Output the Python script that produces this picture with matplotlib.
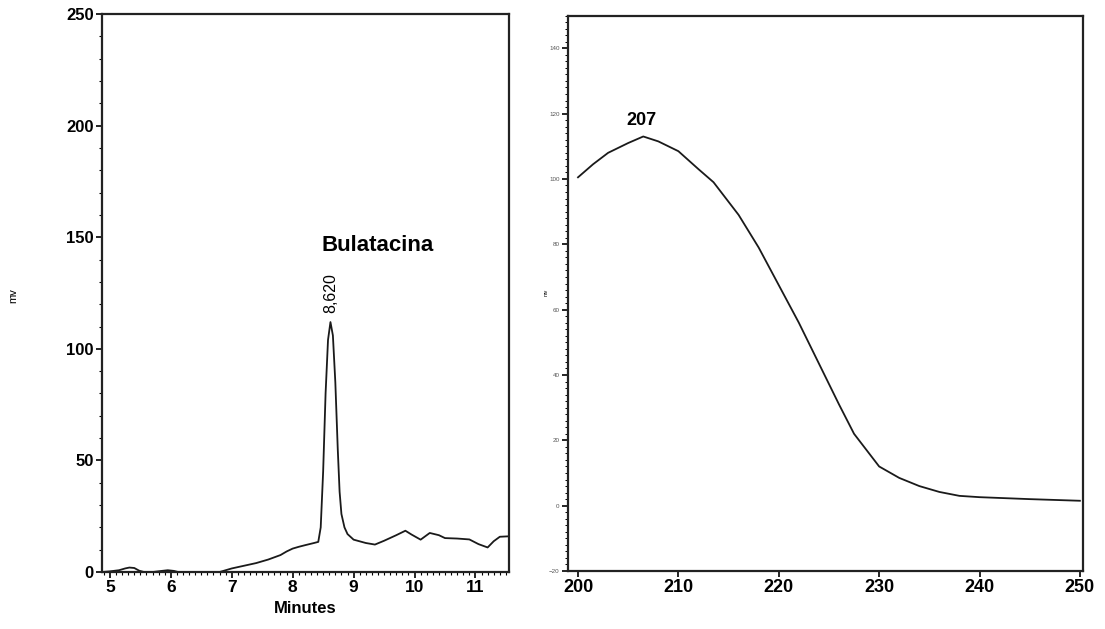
import matplotlib.pyplot as plt
from matplotlib.ticker import MultipleLocator

plt.rcParams['font.family'] = ['Liberation Sans', 'DejaVu Sans']

# chromatogram (minutes, mv)
tempo = [4.87, 5.0, 5.15, 5.25, 5.32, 5.4, 5.48, 5.56, 5.7, 5.85, 5.95, 6.05, 6.12, 6.2,
         6.5, 6.8, 6.9, 7.0, 7.2, 7.4, 7.6, 7.8, 7.9, 8.0, 8.1, 8.2, 8.35, 8.42,
         8.46, 8.5, 8.54, 8.58, 8.62, 8.66, 8.7, 8.74, 8.77, 8.8, 8.85, 8.9, 9.0,
         9.2, 9.35, 9.5, 9.7, 9.85, 9.95, 10.1, 10.25, 10.4, 10.5, 10.7, 10.9,
         11.05, 11.2, 11.3, 11.4, 11.55]
sinal = [0.0, 0.3, 0.8, 1.6, 2.0, 1.8, 0.6, 0.0, 0.0, 0.5, 0.8, 0.5, 0.0, 0.0,
         0.0, 0.0, 0.8, 1.6, 2.8, 4.0, 5.6, 7.6, 9.2, 10.5, 11.3, 12.0, 13.0, 13.5,
         20.0, 45.0, 80.0, 104.0, 112.0, 106.0, 85.0, 55.0, 36.0, 26.0, 20.0, 17.0, 14.5,
         13.0, 12.3, 14.0, 16.5, 18.5, 16.8, 14.5, 17.5, 16.5, 15.2, 15.0, 14.6,
         12.5, 11.0, 13.8, 15.8, 16.0]

# UV spectrum of the peak (nm, absorbance)
onda = [200, 201.5, 203, 205, 206.5, 208, 210, 212, 213.5, 216, 218, 220, 222,
        224, 226, 227.5, 230, 232, 234, 236, 238, 240, 245, 250]
absorb = [100.5, 104.5, 108.0, 111.0, 113.0, 111.5, 108.5, 103.0, 99.0, 89.0, 79.0,
          67.5, 56.0, 43.5, 31.0, 22.0, 12.0, 8.5, 6.0, 4.2, 3.0, 2.6, 2.0, 1.5]

fig = plt.figure(figsize=(11.05, 6.29), dpi=100)
ax1 = fig.add_axes([0.0923, 0.0906, 0.3683, 0.887])
ax2 = fig.add_axes([0.514, 0.0922, 0.466, 0.883])

for ax in (ax1, ax2):
    for s in ax.spines.values():
        s.set_linewidth(1.6)
        s.set_color('#222222')

# chromatogram
ax1.plot(tempo, sinal, color='#1a1a1a', lw=1.3)
ax1.set_xlim(4.87, 11.55)
ax1.set_ylim(0, 250)
ax1.xaxis.set_major_locator(MultipleLocator(1))
ax1.xaxis.set_minor_locator(MultipleLocator(0.1))
ax1.yaxis.set_major_locator(MultipleLocator(50))
ax1.yaxis.set_minor_locator(MultipleLocator(10))
ax1.tick_params(which='major', direction='out', length=4, width=1.2, pad=2)
ax1.tick_params(which='minor', direction='out', length=2.5, width=0.8)
ax1.tick_params(axis='x', labelsize=12.5)
ax1.tick_params(axis='y', labelsize=12)
for lab in ax1.get_xticklabels() + ax1.get_yticklabels():
    lab.set_fontweight('bold')
ax1.set_xlabel('Minutes', fontsize=12, fontweight='bold', labelpad=4)
fig.text(0.012, 0.53, 'mv', rotation=90, fontsize=8, ha='center', va='center')

ax1.text(8.62, 116, '8,620', rotation=90, fontsize=11.5, ha='center', va='bottom')
ax1.text(8.48, 144, 'Bulatacina', fontsize=16, fontweight='bold', ha='left', va='baseline')

# spectrum
ax2.plot(onda, absorb, color='#1a1a1a', lw=1.3)
ax2.set_xlim(199, 250.3)
ax2.set_ylim(-20, 150)
ax2.xaxis.set_major_locator(MultipleLocator(10))
ax2.yaxis.set_major_locator(MultipleLocator(20))
ax2.yaxis.set_minor_locator(MultipleLocator(2))
ax2.tick_params(which='major', direction='out', length=4, width=1.2, pad=2)
ax2.tick_params(which='minor', direction='out', length=2, width=0.7)
ax2.tick_params(axis='x', labelsize=13)
ax2.tick_params(axis='y', labelsize=4.5, labelcolor='#555555')
for lab in ax2.get_xticklabels():
    lab.set_fontweight('bold')
fig.text(0.494, 0.535, 'mv', rotation=90, fontsize=4, ha='center', va='center')
ax2.text(206.3, 116.5, '207', fontsize=13, fontweight='bold', ha='center', va='baseline')

fig.savefig('out.png', dpi=100)
